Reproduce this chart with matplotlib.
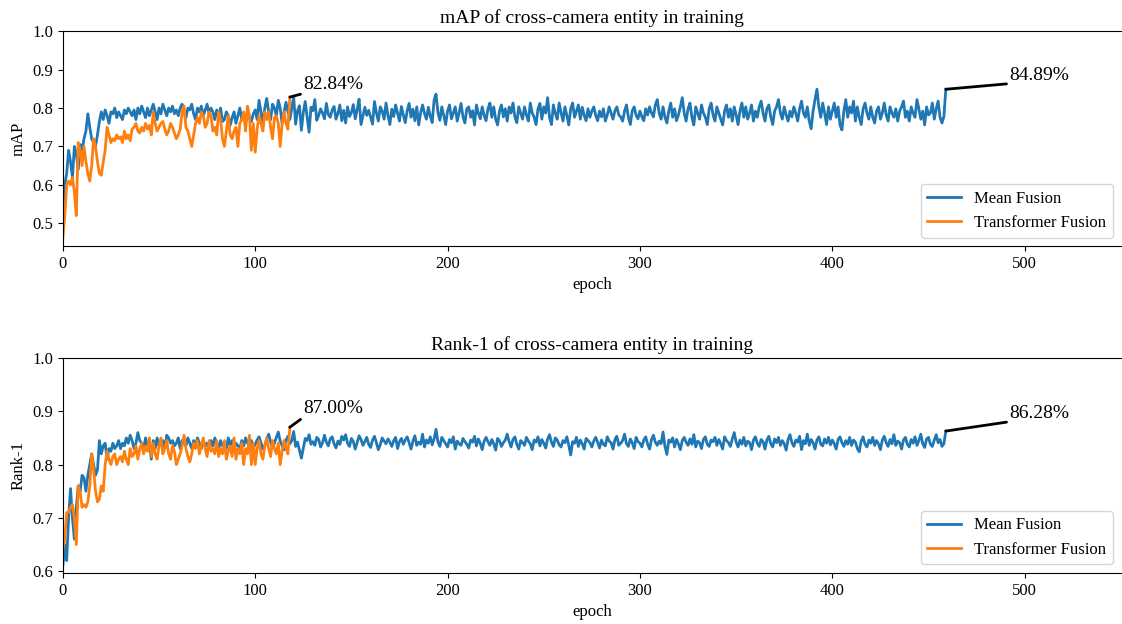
import numpy as np
import matplotlib
matplotlib.use("Agg")
from matplotlib import pyplot as plt

plt.rcParams['font.family'] = ['Liberation Serif', 'DejaVu Serif']

# values, in 1/1000
mean_map = [
	540, 600, 630, 690, 660, 620, 700, 680, 640, 705, 690, 720, 740, 785, 750, 720, 710, 700, 730, 765,
	790, 770, 795, 780, 760, 790, 785, 800, 775, 790, 780, 770, 795, 785, 800, 790, 780, 795, 770, 800,
	785, 805, 790, 775, 800, 780, 795, 810, 790, 770, 800, 785, 810, 795, 780, 800, 790, 805, 785, 795,
	780, 800, 810, 790, 775, 800, 795, 810, 785, 770, 800, 790, 805, 780, 795, 810, 785, 800, 790, 770,
	795, 780, 800, 765, 770, 790, 780, 755, 775, 790, 760, 780, 800, 770, 785, 760, 790, 775, 765, 785,
	795, 770, 820, 790, 760, 800, 825, 790, 770, 810, 800, 780, 820, 800, 760, 790, 815, 790, 770, 800,
	828, 758, 793, 806, 742, 788, 817, 777, 737, 802, 793, 822, 768, 781, 798, 787, 772, 812, 783, 776,
	795, 804, 771, 786, 808, 767, 794, 761, 803, 778, 788, 809, 772, 796, 823, 757, 779, 802, 781, 794,
	776, 758, 817, 788, 766, 803, 792, 771, 813, 781, 757, 797, 778, 808, 787, 766, 804, 782, 762, 793,
	812, 776, 797, 767, 803, 756, 788, 808, 786, 771, 802, 779, 762, 821, 836, 788, 768, 803, 781, 757,
	792, 808, 772, 787, 803, 766, 788, 812, 777, 761, 798, 803, 776, 793, 756, 808, 787, 772, 803, 781,
	767, 798, 813, 776, 803, 771, 756, 792, 808, 777, 798, 766, 803, 787, 813, 776, 762, 803, 787, 771,
	803, 782, 766, 813, 787, 776, 757, 798, 812, 771, 803, 787, 827, 776, 757, 808, 786, 771, 813, 788,
	766, 803, 781, 756, 798, 813, 776, 792, 808, 771, 802, 781, 767, 798, 776, 792, 803, 781, 767, 792,
	777, 798, 766, 782, 803, 787, 771, 793, 803, 782, 777, 766, 792, 808, 776, 757, 793, 803, 781, 772,
	792, 777, 767, 798, 782, 803, 787, 777, 808, 822, 787, 771, 803, 776, 761, 792, 813, 776, 798, 767,
	782, 803, 827, 787, 766, 798, 813, 776, 756, 803, 787, 771, 808, 787, 776, 757, 798, 813, 782, 766,
	803, 787, 771, 756, 792, 808, 776, 798, 766, 803, 782, 757, 793, 813, 776, 803, 771, 787, 808, 766,
	792, 776, 803, 818, 787, 766, 798, 808, 777, 757, 792, 803, 822, 787, 771, 803, 782, 766, 792, 777,
	803, 787, 766, 798, 818, 787, 776, 803, 766, 746, 792, 822, 849, 803, 776, 813, 787, 757, 803, 771,
	792, 813, 776, 803, 756, 743, 792, 822, 776, 803, 787, 818, 766, 803, 776, 757, 798, 813, 787, 771,
	803, 776, 761, 792, 803, 771, 787, 813, 782, 766, 803, 787, 776, 798, 766, 792, 803, 818, 776, 792,
	766, 803, 787, 776, 822, 798, 771, 792, 756, 803, 782, 787, 813, 771, 798, 818, 776, 761, 778, 848.9,
]
trans_map = [
	460, 520, 600, 610, 600, 620, 580, 520, 710, 690, 650, 700, 660, 630, 610, 650, 720, 700, 660, 630,
	625, 660, 690, 750, 730, 710, 720, 715, 730, 720, 725, 710, 740, 720, 730, 715, 745, 750, 760, 740,
	735, 750, 740, 760, 745, 755, 730, 790, 760, 740, 750, 760, 765, 745, 730, 740, 760, 750, 735, 720,
	730, 745, 790, 805, 750, 740, 720, 700, 730, 760, 775, 760, 790, 780, 750, 760, 790, 780, 740, 750,
	730, 790, 770, 720, 700, 740, 780, 730, 720, 740, 750, 700, 760, 770, 790, 740, 805, 780, 690, 760,
	685, 745, 780, 760, 740, 790, 770, 790, 750, 720, 775, 780, 760, 700, 760, 790, 760, 745, 828.4,
]
mean_rank1 = [
	610, 650, 620, 700, 755, 700, 660, 720, 760, 750, 780, 775, 750, 780, 800, 820, 800, 780, 790, 845,
	820, 835, 840, 810, 830, 825, 840, 830, 835, 845, 830, 840, 835, 850, 840, 855, 845, 830, 840, 860,
	845, 840, 830, 850, 835, 840, 810, 845, 830, 850, 835, 840, 845, 830, 855, 850, 840, 845, 835, 840,
	850, 830, 845, 840, 835, 850, 840, 830, 845, 835, 850, 840, 830, 845, 835, 840, 830, 845, 835, 850,
	840, 830, 845, 835, 840, 830, 850, 835, 845, 830, 840, 835, 830, 845, 835, 850, 840, 835, 845, 830,
	838, 846, 852, 841, 829, 836, 848, 857, 843, 832, 840, 851, 861, 844, 835, 828, 846, 853, 839, 845,
	862, 834, 842, 827, 812, 831, 849, 845, 856, 838, 843, 836, 851, 847, 833, 841, 855, 842, 835, 848,
	852, 839, 831, 844, 838, 853, 846, 856, 840, 834, 849, 843, 829, 841, 854, 847, 836, 843, 851, 838,
	832, 846, 853, 841, 828, 837, 850, 844, 839, 848, 842, 834, 845, 851, 830, 843, 849, 838, 846, 852,
	841, 829, 844, 854, 836, 842, 838, 857, 833, 846, 840, 852, 837, 848, 866, 842, 834, 851, 845, 839,
	833, 847, 841, 852, 829, 844, 839, 836, 849, 843, 838, 831, 846, 842, 853, 835, 848, 840, 828, 844,
	851, 843, 836, 847, 839, 827, 849, 845, 834, 841, 846, 857, 843, 833, 847, 852, 838, 829, 845, 841,
	836, 851, 844, 839, 828, 846, 842, 852, 835, 847, 840, 831, 848, 856, 842, 834, 850, 846, 837, 833,
	845, 841, 852, 836, 818, 843, 840, 851, 834, 846, 839, 829, 849, 845, 841, 833, 844, 851, 842, 831,
	846, 838, 835, 852, 844, 841, 829, 847, 853, 836, 840, 845, 857, 839, 834, 848, 841, 830, 851, 843,
	840, 833, 846, 852, 838, 829, 847, 855, 842, 836, 844, 839, 861, 834, 819, 846, 842, 850, 833, 847,
	839, 828, 845, 851, 842, 836, 848, 838, 856, 833, 844, 841, 830, 847, 852, 838, 834, 846, 843, 851,
	836, 847, 839, 829, 852, 845, 841, 834, 848, 860, 842, 833, 846, 838, 851, 835, 844, 841, 828, 846,
	852, 840, 834, 847, 843, 829, 846, 853, 839, 833, 848, 841, 851, 836, 845, 839, 827, 847, 856, 841,
	834, 846, 842, 853, 828, 845, 839, 857, 836, 847, 841, 829, 846, 852, 838, 835, 848, 840, 851, 837,
	846, 839, 829, 847, 852, 841, 834, 845, 838, 851, 836, 846, 842, 830, 824, 844, 852, 838, 833, 846,
	840, 851, 836, 845, 839, 828, 846, 853, 841, 834, 847, 839, 856, 836, 844, 841, 829, 846, 851, 838,
	833, 847, 840, 852, 836, 845, 857, 839, 832, 848, 851, 838, 834, 846, 856, 841, 847, 834, 839, 862.8,
]
trans_rank1 = [
	640, 660, 710, 710, 720, 725, 700, 650, 760, 750, 720, 725, 720, 730, 760, 820, 790, 750, 730, 735,
	760, 750, 800, 825, 810, 800, 815, 820, 800, 810, 815, 805, 825, 810, 800, 830, 815, 820, 835, 810,
	830, 840, 820, 835, 825, 850, 815, 840, 820, 810, 835, 850, 820, 830, 845, 820, 810, 835, 825, 800,
	810, 820, 835, 855, 830, 815, 805, 820, 840, 830, 845, 820, 835, 850, 830, 815, 845, 825, 830, 820,
	845, 815, 830, 820, 845, 810, 825, 835, 815, 850, 810, 830, 820, 840, 800, 830, 820, 855, 800, 840,
	800, 830, 845, 820, 810, 835, 850, 830, 815, 845, 830, 820, 840, 800, 825, 845, 830, 820, 870.0,
]

panels = [
	("mAP", "mAP of cross-camera entity in training", mean_map, trans_map),
	("Rank-1", "Rank-1 of cross-camera entity in training", mean_rank1, trans_rank1),
]
# where the two percentage labels sit, relative to the last point
offsets = [[(7, 0.020), (33, 0.025)], [(7, 0.026), (33, 0.025)]]

fig, axes = plt.subplots(2, 1, figsize=(11.22, 6.24), dpi=100)
fig.subplots_adjust(left=0.056, right=0.999, top=0.95, bottom=0.082, hspace=0.52)

for ax, (name, title, mean_vals, trans_vals), offs in zip(axes, panels, offsets):
	mean_vals = np.array(mean_vals) / 1000
	trans_vals = np.array(trans_vals) / 1000
	ax.plot(np.arange(len(mean_vals)), mean_vals, color="#1f77b4", lw=2, label="Mean Fusion")
	ax.plot(np.arange(len(trans_vals)), trans_vals, color="#ff7f0e", lw=2, label="Transformer Fusion")

	for vals, (dx, dy) in zip([trans_vals, mean_vals], offs):
		x = len(vals) - 1
		ax.annotate("%.2f%%" % (vals[-1] * 100), xy=(x, vals[-1]), xytext=(x + dx, vals[-1] + dy),
			fontsize=14, arrowprops=dict(arrowstyle="-", color="black", lw=2, relpos=(0, 0),
			shrinkA=0, shrinkB=0))

	ax.set_xlim(0, 550)
	ax.set_ylim(top=1.0)
	ax.spines["right"].set_visible(False)
	ax.set_title(title, fontsize=14)
	ax.set_xlabel("epoch", fontsize=12)
	ax.set_ylabel(name, fontsize=12)
	ax.tick_params(labelsize=12)
	ax.legend(loc="lower right", fontsize=12)

plt.savefig("out.png")
plt.close()
